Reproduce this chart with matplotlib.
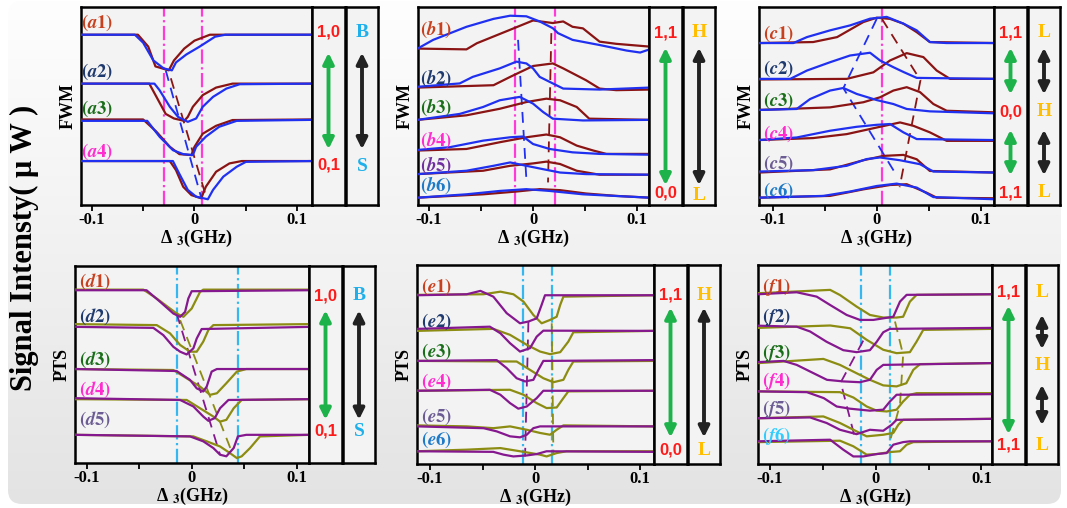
import numpy as np
import matplotlib
matplotlib.use("Agg")
import matplotlib.pyplot as plt
from matplotlib.patches import FancyBboxPatch
from matplotlib.colors import LinearSegmentedColormap

plt.rcParams['font.family'] = ['Liberation Serif', 'DejaVu Serif']
plt.rcParams['font.weight'] = 'bold'
plt.rcParams['axes.labelweight'] = 'bold'
plt.rcParams['mathtext.fontset'] = 'stix'

# ---------------- data (x in GHz, y in arb. units 0-100) ----------------
# panel a : FWM, brown / blue
a1_br_x = [-0.111, -0.055, -0.045, -0.038, -0.025, -0.020, -0.010, 0.000, 0.015, 0.114]
a1_br_y = [86, 86, 80, 70, 68, 73, 79, 83, 86, 86]
a1_bl_x = [-0.111, -0.058, -0.050, -0.040, -0.030, -0.022, -0.018, -0.008, 0.005, 0.020, 0.030, 0.114]
a1_bl_y = [86, 86, 82, 73, 69, 68, 72, 76, 80, 85, 86, 86]
a2_br_x = [-0.111, -0.044, -0.028, -0.020, -0.010, -0.0065, -0.0016, 0.008, 0.021, 0.037, 0.114]
a2_br_y = [61.3, 61.3, 46, 43.7, 42.5, 44.5, 49.6, 55.5, 59.3, 61.3, 61.3]
a2_bl_x = [-0.111, -0.039, -0.034, -0.024, -0.016, -0.0065, 0.0016, 0.008, 0.018, 0.031, 0.044, 0.114]
a2_bl_y = [61.3, 61.3, 58, 49.6, 44.5, 42, 43.7, 49.6, 54.6, 58.8, 61, 61.3]
a3_br_x = [-0.111, -0.050, -0.037, -0.024, -0.0147, -0.003, 0.0, 0.008, 0.021, 0.037, 0.114]
a3_br_y = [43.2, 43.2, 37, 29.4, 25.7, 25.2, 29.4, 36, 40, 42.9, 43.2]
a3_bl_x = [-0.111, -0.046, -0.034, -0.021, -0.011, -0.0016, 0.0016, 0.011, 0.024, 0.041, 0.114]
a3_bl_y = [42.5, 42.5, 34.5, 27.7, 25.7, 25.2, 29.4, 34.5, 39.5, 42.5, 43]
a4_br_x = [-0.111, -0.024, -0.018, -0.011, -0.003, 0.0065, 0.011, 0.021, 0.034, 0.046, 0.114]
a4_br_y = [22.2, 22.2, 17.6, 9.2, 5, 3.4, 9.2, 16.8, 21, 22.2, 22.2]
a4_bl_x = [-0.111, -0.021, -0.015, -0.0065, 0.0016, 0.013, 0.018, 0.028, 0.041, 0.050, 0.114]
a4_bl_y = [22.2, 22.2, 16, 7.6, 4.2, 2.9, 7.6, 14.3, 19.3, 21.8, 22.2]
a_dash_bl = ([-0.028, 0.0065], [68, 3.8])
a_dash_br = ([-0.023, 0.0114], [64, 4])
a_vlines = [-0.030, 0.007]

# panel b : FWM
b1_br_x = [-0.111, -0.064, -0.054, -0.022, 0.0, 0.019, 0.029, 0.038, 0.048, 0.058, 0.064, 0.080, 0.112]
b1_br_y = [79, 78.6, 81.7, 88.5, 93.2, 91.9, 92.7, 90, 89.2, 85, 82.5, 81.4, 80]
b1_bl_x = [-0.111, -0.096, -0.064, -0.038, -0.022, -0.0064, 0.0064, 0.019, 0.024, 0.038, 0.064, 0.090, 0.103, 0.112]
b1_bl_y = [79, 83.4, 90, 94, 95.6, 95.3, 92.7, 89.3, 86.8, 83.4, 80.8, 78, 77, 78.6]
b2_br_x = [-0.111, -0.038, -0.022, 0.0, 0.019, 0.029, 0.051, 0.064, 0.080, 0.112]
b2_br_y = [59.3, 60.5, 64.7, 70.2, 71.5, 69, 63, 58.8, 58, 58.3]
b2_bl_x = [-0.111, -0.0705, -0.058, -0.032, -0.016, -0.0064, 0.0, 0.0064, 0.019, 0.029, 0.064, 0.112]
b2_bl_y = [59.7, 61.4, 64.7, 69, 72.4, 71.5, 69, 64.7, 61.4, 58.8, 58.3, 59.3]
b3_br_x = [-0.111, -0.064, -0.032, -0.0064, 0.0128, 0.026, 0.042, 0.054, 0.112]
b3_br_y = [43, 45.3, 48.6, 52, 53.7, 52.9, 49.5, 43.6, 43]
b3_bl_x = [-0.111, -0.0705, -0.048, -0.032, -0.0128, 0.0, 0.0096, 0.019, 0.048, 0.112]
b3_bl_y = [43, 46, 49.5, 52.9, 54.6, 51.2, 47, 43.6, 42.7, 43]
b4_br_x = [-0.111, -0.064, -0.032, -0.0064, 0.0128, 0.026, 0.042, 0.058, 0.0705, 0.112]
b4_br_y = [27.5, 28.3, 31.7, 34.2, 35.6, 34.2, 30, 27.5, 25.8, 25.8]
b4_bl_x = [-0.111, -0.080, -0.048, -0.022, -0.0096, 0.0, 0.016, 0.038, 0.064, 0.112]
b4_bl_y = [27.8, 29.2, 32.5, 34.2, 34.6, 30.8, 28.3, 26.6, 25.8, 25.4]
b5_br_x = [-0.111, -0.048, -0.022, 0.0, 0.0128, 0.026, 0.042, 0.064, 0.112]
b5_br_y = [15.6, 17.3, 19.8, 21, 21.9, 20.7, 17.3, 15.3, 15.3]
b5_bl_x = [-0.111, -0.064, -0.038, -0.022, -0.0064, 0.0096, 0.026, 0.051, 0.112]
b5_bl_y = [15.6, 17.3, 19.8, 21.5, 19.8, 18.1, 16.4, 15.6, 15.3]
b6_br_x = [-0.111, -0.048, -0.016, 0.0064, 0.026, 0.051, 0.080, 0.112]
b6_br_y = [3.7, 5.4, 6.8, 8, 7.5, 5.8, 4.6, 3.7]
b6_bl_x = [-0.111, -0.064, -0.032, -0.0064, 0.016, 0.048, 0.112]
b6_bl_y = [3.7, 5.4, 7.1, 8, 7.1, 5.4, 3.7]
b_dash_bl = ([-0.0144, -0.0064], [83.4, 13])
b_dash_br = ([0.0176, 0.0144], [86.8, 11.4])
b_vlines = [-0.0176, 0.021]

# panel c : FWM
c1_br_x = [-0.113, -0.061, -0.038, -0.0128, 0.0, 0.0128, 0.0256, 0.0384, 0.051, 0.113]
c1_br_y = [81.8, 82.3, 84.8, 92.4, 94.6, 94, 91.6, 87.3, 82.3, 81.8]
c1_bl_x = [-0.113, -0.080, -0.067, -0.0448, -0.0256, -0.0064, 0.0096, 0.0256, 0.0384, 0.051, 0.067, 0.113]
c1_bl_y = [81.8, 81.8, 84.8, 88.2, 90.7, 94.1, 95, 91.6, 88.2, 82.3, 81.8, 81.8]
c2_br_x = [-0.113, -0.0288, -0.0032, 0.0128, 0.0288, 0.0448, 0.0576, 0.0704, 0.113]
c2_br_y = [63.4, 63.7, 67, 73, 76.7, 74.7, 67.9, 63.7, 63.7]
c2_bl_x = [-0.113, -0.083, -0.067, -0.0448, -0.0256, -0.0064, 0.0032, 0.016, 0.0256, 0.0384, 0.113]
c2_bl_y = [63.7, 63.7, 67.9, 72.1, 75.5, 76.9, 73, 69.6, 67.2, 64.2, 63.7]
c3_br_x = [-0.113, -0.0448, -0.0128, 0.0032, 0.016, 0.0288, 0.0416, 0.0544, 0.0672, 0.113]
c3_br_y = [48, 49.3, 51.9, 54.4, 57.8, 59.5, 57, 51, 47.6, 46.8]
c3_bl_x = [-0.113, -0.0768, -0.064, -0.0448, -0.032, -0.0192, 0.0, 0.016, 0.0288, 0.051, 0.113]
c3_bl_y = [48, 48.5, 53.5, 57.8, 59.1, 56.1, 53, 51, 48.5, 47.3, 46.3]
c4_br_x = [-0.113, -0.061, -0.0288, 0.0032, 0.0224, 0.0352, 0.051, 0.0672, 0.113]
c4_br_y = [32.8, 33.8, 35.8, 39.5, 41.7, 40, 36.7, 32.4, 32.4]
c4_bl_x = [-0.113, -0.0768, -0.0448, -0.0192, 0.0, 0.0128, 0.0256, 0.0384, 0.113]
c4_bl_y = [32.8, 34.1, 37.5, 39.5, 40.5, 40.9, 36.7, 33.3, 32.8]
c5_br_x = [-0.113, -0.0448, -0.0128, 0.0064, 0.0256, 0.0384, 0.051, 0.113]
c5_br_y = [16.4, 18, 22.6, 24.8, 25.3, 23.1, 17.2, 16.4]
c5_bl_x = [-0.113, -0.061, -0.0288, -0.0096, 0.0032, 0.0224, 0.0416, 0.0544, 0.113]
c5_bl_y = [16.9, 17.6, 19.8, 23.2, 24, 22.6, 20.6, 16.9, 16.4]
c6_br_x = [-0.113, -0.0448, -0.0128, 0.0128, 0.0288, 0.048, 0.0576, 0.113]
c6_br_y = [3.7, 4.6, 7.9, 10.1, 10.5, 6.2, 3.7, 3.4]
c6_bl_x = [-0.113, -0.051, -0.0256, 0.0, 0.0192, 0.0384, 0.0544, 0.113]
c6_bl_y = [3.7, 4.6, 6.8, 9.6, 10.8, 8.8, 4, 2.9]
c_dash_bl = ([0.0, -0.032, 0.019], [94, 59, 15])
c_dash_br = ([0.005, 0.042, 0.022], [94, 63, 9])
c_vlines = [0.0048]

# panel d : PTS, olive / purple
d1_ol_x = [-0.111, -0.046, -0.0333, -0.0206, -0.0143, -0.0079, 0.0, 0.0048, 0.0079, 0.011, 0.112]
d1_ol_y = [88, 88, 83.5, 78.4, 75.9, 74.2, 78.4, 83.5, 86.8, 88, 88]
d1_pu_x = [-0.111, -0.043, -0.030, -0.0175, -0.011, -0.0063, -0.0032, 0.0, 0.112]
d1_pu_y = [87.7, 87.7, 81.8, 75.9, 74.2, 76.7, 83.5, 87.2, 87.7]
d2_ol_x = [-0.111, -0.0333, -0.0206, -0.011, -0.0016, 0.0048, 0.011, 0.0159, 0.0206, 0.112]
d2_ol_y = [70.5, 70, 65.8, 59.9, 56.5, 56.5, 61.6, 67.5, 70, 70.5]
d2_pu_x = [-0.111, -0.0365, -0.027, -0.0175, -0.011, -0.0048, 0.0016, 0.0048, 0.0095, 0.112]
d2_pu_y = [69.1, 68.6, 64.9, 59, 56.5, 55.1, 58.2, 63.2, 68, 69.1]
d3_ol_x = [-0.111, -0.0175, -0.0048, 0.0079, 0.0175, 0.024, 0.033, 0.043, 0.052, 0.112]
d3_ol_y = [47.7, 47.2, 43, 38.8, 34.6, 35.4, 40.5, 46.4, 47.7, 47.7]
d3_pu_x = [-0.111, -0.0143, -0.0016, 0.0048, 0.011, 0.0143, 0.019, 0.024, 0.112]
d3_pu_y = [47.7, 46.7, 42.2, 37.9, 36.3, 38.8, 46.4, 47.7, 47.7]
d4_ol_x = [-0.111, -0.0048, 0.0079, 0.0206, 0.027, 0.033, 0.040, 0.0476, 0.112]
d4_ol_y = [32.4, 32, 27.8, 23.6, 21, 21.9, 27.8, 32, 32.4]
d4_pu_x = [-0.111, -0.011, 0.0016, 0.011, 0.0159, 0.022, 0.027, 0.035, 0.112]
d4_pu_y = [32.9, 32, 28.7, 23.6, 21.4, 22.8, 27.8, 32, 32.4]
d5_ol_x = [-0.111, 0.0016, 0.0143, 0.027, 0.0365, 0.043, 0.0476, 0.0556, 0.065, 0.112]
d5_ol_y = [14.3, 13.5, 11, 8.4, 5, 2.5, 3.4, 7.6, 13.5, 14.3]
d5_pu_x = [-0.111, -0.0016, 0.011, 0.0206, 0.027, 0.033, 0.040, 0.044, 0.052, 0.112]
d5_pu_y = [14.3, 13.5, 11, 7.6, 4.2, 3.4, 7.6, 13.5, 14.3, 14.3]
d_dash_pu = ([-0.0143, 0.027], [75.9, 4.2])
d_dash_ol = ([-0.011, 0.038], [72.5, 5.9])
d_vlines = [-0.0143, 0.0444]

# panel e : PTS
e1_pu_x = [-0.112, -0.065, -0.052, -0.0397, -0.027, -0.0143, -0.0063, 0.0016, 0.0063, 0.0095, 0.113]
e1_pu_y = [84.8, 85.3, 87, 84.1, 75.8, 70.7, 71.6, 73.2, 80, 84.8, 84.8]
e1_ol_x = [-0.112, -0.049, -0.033, -0.0206, -0.011, -0.0016, 0.0063, 0.0143, 0.0206, 0.024, 0.027, 0.113]
e1_ol_y = [85, 85.3, 86.6, 85.3, 81.6, 74.9, 70.7, 72.4, 74, 80, 84.1, 84.8]
e2_pu_x = [-0.112, -0.043, -0.033, -0.0238, -0.0143, -0.0048, 0.0016, 0.0079, 0.113]
e2_pu_y = [67.9, 69, 65.7, 60.7, 56.5, 58.2, 64, 67, 66.9]
e2_ol_x = [-0.112, -0.0397, -0.0238, -0.0079, 0.0048, 0.0143, 0.024, 0.0317, 0.0365, 0.113]
e2_ol_y = [66.9, 67.9, 64.9, 59.9, 56.5, 55.2, 56.2, 61.5, 66.2, 66.9]
e3_pu_x = [-0.112, -0.0365, -0.027, -0.0175, -0.0095, -0.0016, 0.0032, 0.0079, 0.113]
e3_pu_y = [51.8, 52.2, 48.2, 43.1, 41.5, 42.3, 47.3, 51.8, 52.2]
e3_ol_x = [-0.112, -0.0175, -0.0048, 0.0079, 0.0175, 0.027, 0.0317, 0.0365, 0.113]
e3_ol_y = [51.8, 51.5, 47.3, 43.1, 41.1, 42.3, 47.3, 51.5, 51.8]
e4_pu_x = [-0.112, -0.043, -0.033, -0.0238, -0.0159, -0.0079, 0.0016, 0.0079, 0.113]
e4_pu_y = [36.8, 37.3, 34.8, 30.6, 27.8, 28.9, 33.1, 36.8, 36.8]
e4_ol_x = [-0.112, -0.0238, -0.011, 0.0016, 0.011, 0.0206, 0.027, 0.0317, 0.113]
e4_ol_y = [36.8, 37.3, 34.8, 30.6, 28.1, 28.4, 33.1, 36.5, 36.8]
e5_pu_x = [-0.112, -0.049, -0.0365, -0.0238, -0.0143, -0.0079, -0.0016, 0.0048, 0.113]
e5_pu_y = [18.9, 18, 16.4, 13.9, 13.4, 14.7, 18, 18.9, 18.9]
e5_ol_x = [-0.112, -0.065, -0.0397, -0.0238, -0.0079, 0.0048, 0.0143, 0.0206, 0.027, 0.113]
e5_ol_y = [19.4, 18.9, 18, 18.9, 17.2, 15.6, 14.7, 17.2, 19.4, 18.9]
e6_pu_x = [-0.112, -0.0397, -0.030, -0.0206, -0.0079, 0.0016, 0.011, 0.113]
e6_pu_y = [6.4, 6.1, 4.7, 3.8, 4.3, 5, 6.4, 6.1]
e6_ol_x = [-0.112, -0.065, -0.033, -0.0143, 0.0048, 0.011, 0.0206, 0.030, 0.113]
e6_ol_y = [6.4, 7.2, 8, 6.4, 4.7, 3.8, 5.5, 6.4, 6.4]
e_dash_pu = ([-0.0063, -0.0095], [71.6, 3.8])
e_dash_ol = ([0.0159, 0.0175], [70.7, 4.7])
e_vlines = [-0.0117, 0.0159]

# panel f : PTS
f1_pu_x = [-0.111, -0.0746, -0.0557, -0.043, -0.0274, -0.0148, -0.0022, 0.0072, 0.0167, 0.023, 0.0293, 0.110]
f1_pu_y = [85.3, 86.3, 84.1, 79.9, 74.9, 72.4, 72.4, 73.2, 74, 81.6, 85, 85.3]
f1_ol_x = [-0.111, -0.043, -0.0337, -0.018, -0.0054, 0.0072, 0.0198, 0.026, 0.0324, 0.0387, 0.110]
f1_ol_y = [85.8, 87.5, 84.9, 79.1, 74.9, 73.6, 73.6, 74, 81.6, 85, 85.3]
f2_pu_x = [-0.111, -0.0746, -0.062, -0.0463, -0.0306, -0.018, -0.0054, 0.001, 0.0072, 0.0135, 0.110]
f2_pu_y = [69.5, 69, 66.6, 61.4, 57.2, 56.2, 57.2, 61.4, 66.2, 67.9, 68.4]
f2_ol_x = [-0.111, -0.043, -0.024, -0.0085, 0.0072, 0.0198, 0.0324, 0.0387, 0.045, 0.110]
f2_ol_y = [68.4, 69.6, 68.2, 62.4, 57.4, 55.7, 56.2, 61.5, 67.4, 67.9]
f3_pu_x = [-0.111, -0.087, -0.0746, -0.059, -0.046, -0.0306, -0.0148, -0.0054, 0.001, 0.0072, 0.110]
f3_pu_y = [51.2, 51.8, 49.8, 45.7, 42.3, 41.5, 41.1, 42.3, 47.3, 49.8, 50.7]
f3_ol_x = [-0.111, -0.0494, -0.0337, -0.018, -0.0054, 0.0072, 0.0198, 0.029, 0.0356, 0.042, 0.110]
f3_ol_y = [50.7, 52.8, 49.8, 45.6, 42.3, 39.5, 39, 40.6, 47.3, 50.2, 50.7]
f4_pu_x = [-0.111, -0.065, -0.049, -0.0368, -0.0243, -0.0054, 0.0072, 0.0135, 0.0198, 0.110]
f4_pu_y = [36.5, 36.1, 33.1, 28.9, 27.8, 26.8, 27.3, 31.4, 34.8, 35.1]
f4_ol_x = [-0.111, -0.0337, -0.021, -0.0085, 0.001, 0.0104, 0.0198, 0.026, 0.0324, 0.0387, 0.110]
f4_ol_y = [36.5, 36.1, 33.4, 28.9, 26.8, 26.4, 27.3, 31.4, 34.8, 35.6, 35.6]
f5_pu_x = [-0.111, -0.062, -0.0463, -0.0337, -0.018, -0.0054, 0.0072, 0.0151, 0.0198, 0.110]
f5_pu_y = [23, 23.4, 20.6, 17.2, 15, 17.2, 16.7, 19.7, 22.2, 22.7]
f5_ol_x = [-0.111, -0.0494, -0.0337, -0.018, -0.0085, 0.0072, 0.0167, 0.0214, 0.026, 0.110]
f5_ol_y = [23, 23.9, 20.6, 16.4, 13.9, 14.7, 15.6, 19.7, 22.2, 22.7]
f6_pu_x = [-0.111, -0.043, -0.0306, -0.0211, -0.0117, 0.001, 0.0104, 0.0167, 0.026, 0.0324, 0.110]
f6_pu_y = [11.4, 12.2, 7.2, 3.8, 3.8, 5, 5.5, 9.7, 11, 11.4, 11.4]
f6_ol_x = [-0.111, -0.0337, -0.0211, -0.0085, 0.001, 0.0135, 0.023, 0.0293, 0.0356, 0.110]
f6_ol_y = [11, 11.7, 8.9, 4.7, 5, 6, 6.4, 9.7, 11, 11.4]
f_dash_pu = ([-0.0117, -0.033, -0.02], [62, 41, 14])
f_dash_ol = ([0.0183, 0.026, 0.023, 0.0135], [71.6, 54.8, 29.8, 11.4])
f_vlines = [-0.0139, 0.0135]

# curve label heights
a_lab_y = [92, 67.2, 48.7, 26.9]
b_lab_y = [88.8, 63.9, 49.5, 32.5, 19.8, 9.7]
c_lab_y = [86.5, 68.8, 52.7, 35.8, 20.6, 7.1]
d_lab_y = [91.9, 74.2, 52.3, 37.1, 21.9]
e_lab_y = [89.1, 71.6, 56.5, 41.5, 23.9, 12.2]
f_lab_y = [89.1, 74.1, 55.7, 41.5, 27.8, 13.9]

# side box texts
a_states = ['1,0', '0,1']
a_tags = ['B', 'S']
b_states = ['1,1', '0,0']
b_tags = ['H', 'L']
c_states = ['1,1', '0,0', '1,1']
c_tags = ['L', 'H', 'L']
d_states = ['1,0', '0,1']
d_tags = ['B', 'S']
e_states = ['1,1', '0,0']
e_tags = ['H', 'L']
f_states = ['1,1', '1,1']
f_tags = ['L', 'H', 'L']

# ---------------- styling ----------------
BROWN = '#8a1414'
BLUE = '#2030f0'
OLIVE = '#8c8c12'
PURPLE = '#85188f'
MAGENTA = '#ff3ad8'
SKY = '#35b8f0'
RED = '#ff1a1a'
GREEN = '#1db34a'
ORANGE = '#ffbe00'
LBLUE = '#1eb0ea'
lab_cols = ['#c8401e', '#1f3a6e', '#1a6e1a', '#ff2ccf', '#6c5c94', '#1f7ac8']

W, H = 1067, 508
fig = plt.figure(figsize=(W / 100, H / 100), dpi=100)


def px_axes(x0, x1, y0, y1, **kw):
    return fig.add_axes([x0 / W, 1 - y1 / H, (x1 - x0) / W, (y1 - y0) / H], **kw)


# background panel with soft gradient
bg = px_axes(0, W, 0, H, zorder=-10)
bg.set_xlim(0, W)
bg.set_ylim(H, 0)
bg.axis('off')
cmap = LinearSegmentedColormap.from_list('bg', ['#fefefe', '#f1f1f1', '#e3e3e3'])
im = bg.imshow(np.linspace(0, 1, 256)[:, None], cmap=cmap, aspect='auto', extent=[0, W, H, 0])
box = FancyBboxPatch((8, 1), W - 14, H - 5, boxstyle='round,pad=0,rounding_size=14',
                     facecolor='none', edgecolor='none', transform=bg.transData)
bg.add_patch(box)
im.set_clip_path(box)

panels = [
    dict(key='a', ylab='FWM', box=(81, 312, 7, 205), xlim=(-0.1104, 0.1143),
         curves=[(a1_br_x, a1_br_y, a1_bl_x, a1_bl_y), (a2_br_x, a2_br_y, a2_bl_x, a2_bl_y),
                 (a3_br_x, a3_br_y, a3_bl_x, a3_bl_y), (a4_br_x, a4_br_y, a4_bl_x, a4_bl_y)],
         cols=(BROWN, BLUE), dashes=(a_dash_br, a_dash_bl), vl=a_vlines, vcol=MAGENTA,
         laby=a_lab_y, labx=-0.0945, labcols=lab_cols[:4],
         states=a_states, st_y=[0.874, 0.202], garrows=[(0.783, 0.268)],
         tags=a_tags, tag_y=[0.869, 0.192], tcol=LBLUE, barrows=[(0.783, 0.268)]),
    dict(key='b', ylab='FWM', box=(418, 649, 7, 205), xlim=(-0.1106, 0.1115),
         curves=[(b1_br_x, b1_br_y, b1_bl_x, b1_bl_y), (b2_br_x, b2_br_y, b2_bl_x, b2_bl_y),
                 (b3_br_x, b3_br_y, b3_bl_x, b3_bl_y), (b4_br_x, b4_br_y, b4_bl_x, b4_bl_y),
                 (b5_br_x, b5_br_y, b5_bl_x, b5_bl_y), (b6_br_x, b6_br_y, b6_bl_x, b6_bl_y)],
         cols=(BROWN, BLUE), dashes=(b_dash_br, b_dash_bl), vl=b_vlines, vcol=MAGENTA,
         laby=b_lab_y, labx=-0.093,
         labcols=['#c8401e', '#1f3a6e', '#1a6e1a', '#ff2ccf', '#7030a0', '#1f7ac8'],
         states=b_states, st_y=[0.869, 0.061], garrows=[(0.808, 0.086)],
         tags=b_tags, tag_y=[0.869, 0.05], tcol=ORANGE, barrows=[(0.808, 0.086)]),
    dict(key='c', ylab='FWM', box=(759, 994, 7, 205), xlim=(-0.113, 0.1126),
         curves=[(c1_br_x, c1_br_y, c1_bl_x, c1_bl_y), (c2_br_x, c2_br_y, c2_bl_x, c2_bl_y),
                 (c3_br_x, c3_br_y, c3_bl_x, c3_bl_y), (c4_br_x, c4_br_y, c4_bl_x, c4_bl_y),
                 (c5_br_x, c5_br_y, c5_bl_x, c5_bl_y), (c6_br_x, c6_br_y, c6_bl_x, c6_bl_y)],
         cols=(BROWN, BLUE), dashes=(c_dash_br, c_dash_bl), vl=c_vlines, vcol=MAGENTA,
         laby=c_lab_y, labx=-0.0944, labcols=lab_cols,
         states=c_states, st_y=[0.869, 0.47, 0.061], garrows=[(0.808, 0.545), (0.394, 0.136)],
         tags=c_tags, tag_y=[0.869, 0.47, 0.061], tcol=ORANGE,
         barrows=[(0.808, 0.545), (0.394, 0.136)]),
    dict(key='d', ylab='PTS', box=(75, 309, 266, 463), xlim=(-0.1111, 0.1117),
         curves=[(d1_ol_x, d1_ol_y, d1_pu_x, d1_pu_y), (d2_ol_x, d2_ol_y, d2_pu_x, d2_pu_y),
                 (d3_ol_x, d3_ol_y, d3_pu_x, d3_pu_y), (d4_ol_x, d4_ol_y, d4_pu_x, d4_pu_y),
                 (d5_ol_x, d5_ol_y, d5_pu_x, d5_pu_y)],
         cols=(OLIVE, PURPLE), dashes=(d_dash_ol, d_dash_pu), vl=d_vlines, vcol=SKY,
         laby=d_lab_y, labx=-0.092, labcols=lab_cols[:5],
         states=d_states, st_y=[0.849, 0.161], garrows=[(0.789, 0.206)],
         tags=d_tags, tag_y=[0.849, 0.161], tcol=LBLUE, barrows=[(0.789, 0.206)]),
    dict(key='e', ylab='PTS', box=(417, 654, 265, 464), xlim=(-0.1124, 0.1133),
         curves=[(e1_ol_x, e1_ol_y, e1_pu_x, e1_pu_y), (e2_ol_x, e2_ol_y, e2_pu_x, e2_pu_y),
                 (e3_ol_x, e3_ol_y, e3_pu_x, e3_pu_y), (e4_ol_x, e4_ol_y, e4_pu_x, e4_pu_y),
                 (e5_ol_x, e5_ol_y, e5_pu_x, e5_pu_y), (e6_ol_x, e6_ol_y, e6_pu_x, e6_pu_y)],
         cols=(OLIVE, PURPLE), dashes=(e_dash_ol, e_dash_pu), vl=e_vlines, vcol=SKY,
         laby=e_lab_y, labx=-0.0937, labcols=lab_cols,
         states=e_states, st_y=[0.849, 0.07], garrows=[(0.80, 0.12)],
         tags=e_tags, tag_y=[0.849, 0.07], tcol=ORANGE, barrows=[(0.80, 0.12)]),
    dict(key='f', ylab='PTS', box=(758, 992, 265, 464), xlim=(-0.1112, 0.110),
         curves=[(f1_ol_x, f1_ol_y, f1_pu_x, f1_pu_y), (f2_ol_x, f2_ol_y, f2_pu_x, f2_pu_y),
                 (f3_ol_x, f3_ol_y, f3_pu_x, f3_pu_y), (f4_ol_x, f4_ol_y, f4_pu_x, f4_pu_y),
                 (f5_ol_x, f5_ol_y, f5_pu_x, f5_pu_y), (f6_ol_x, f6_ol_y, f6_pu_x, f6_pu_y)],
         cols=(OLIVE, PURPLE), dashes=(f_dash_ol, f_dash_pu), vl=f_vlines, vcol=SKY,
         laby=f_lab_y, labx=-0.0935,
         labcols=['#c8401e', '#1f3a6e', '#1a6e1a', '#ff2ccf', '#6c5c94', '#33ccff'],
         states=f_states, st_y=[0.864, 0.095], garrows=[(0.809, 0.136)],
         tags=f_tags, tag_y=[0.864, 0.497, 0.095], tcol=ORANGE,
         barrows=[(0.764, 0.563), (0.412, 0.181)]),
]

SPW = 1.8
for p in panels:
    x0, x1, y0, y1 = p['box']
    ax = px_axes(x0, x1, y0, y1)
    ax.set_facecolor('#f3f3f3')
    ax.set_xlim(*p['xlim'])
    ax.set_ylim(0, 100)
    for v in p['vl']:
        ax.axvline(v, color=p['vcol'], ls='-.', lw=1.6, zorder=1)
    for c1x, c1y, c2x, c2y in p['curves']:
        ax.plot(c1x, c1y, color=p['cols'][0], lw=1.6, zorder=3)
        ax.plot(c2x, c2y, color=p['cols'][1], lw=1.6, zorder=3)
    for (dx, dy), col in zip(p['dashes'], p['cols']):
        ax.plot(dx, dy, color=col, ls=(0, (6, 4)), lw=1.3, zorder=2)
    for i, (ly, lc) in enumerate(zip(p['laby'], p['labcols'])):
        ax.text(p['labx'], ly, r'$\mathbf{(}\mathbfit{%s}\mathbf{%d)}$' % (p['key'], i + 1),
                color=lc, fontsize=13.5, ha='center', va='center', zorder=5)
    ax.set_xticks([-0.1, -0.05, 0, 0.05, 0.1])
    ax.set_xticklabels(['-0.1', '', '0', '', '0.1'])
    ax.set_yticks([])
    ax.tick_params(axis='x', direction='out', length=4, width=1.3, pad=1, labelsize=12)
    ax.set_ylabel(p['ylab'], fontsize=13, labelpad=3)
    ax.set_xlabel('Δ $_{\\mathbf{3}}$(GHz)', fontsize=13, labelpad=0)
    for s in ax.spines.values():
        s.set_linewidth(SPW)

    # state box (red numbers, green arrows) and level box (letters, black arrows)
    b1 = px_axes(x1, x1 + 33, y0, y1)
    b2 = px_axes(x1 + 34, x1 + 66, y0, y1)
    for bx in (b1, b2):
        bx.set_facecolor('#f3f3f3')
        bx.set_xticks([])
        bx.set_yticks([])
        bx.set_xlim(0, 1)
        bx.set_ylim(0, 1)
        for s in bx.spines.values():
            s.set_linewidth(SPW)
    for t, ty in zip(p['states'], p['st_y']):
        b1.text(0.5, ty, t, color=RED, fontsize=12, ha='center', va='center',
                family='Liberation Sans', weight='bold', zorder=5)
    for ya, yb in p['garrows']:
        b1.annotate('', xy=(0.5, ya), xytext=(0.5, yb),
                    arrowprops=dict(arrowstyle='<|-|>', color=GREEN, lw=2.8, mutation_scale=16))
    for t, ty in zip(p['tags'], p['tag_y']):
        b2.text(0.5, ty, t, color=p['tcol'], fontsize=14, ha='center', va='center', zorder=5)
    for ya, yb in p['barrows']:
        b2.annotate('', xy=(0.5, ya), xytext=(0.5, yb),
                    arrowprops=dict(arrowstyle='<|-|>', color='#222222', lw=2.8, mutation_scale=16))

fig.text(24 / W, 1 - 248 / H, 'Signal Intensty( μ W )', rotation=90, fontsize=22,
         ha='center', va='center')

fig.savefig('out.png', dpi=100)
